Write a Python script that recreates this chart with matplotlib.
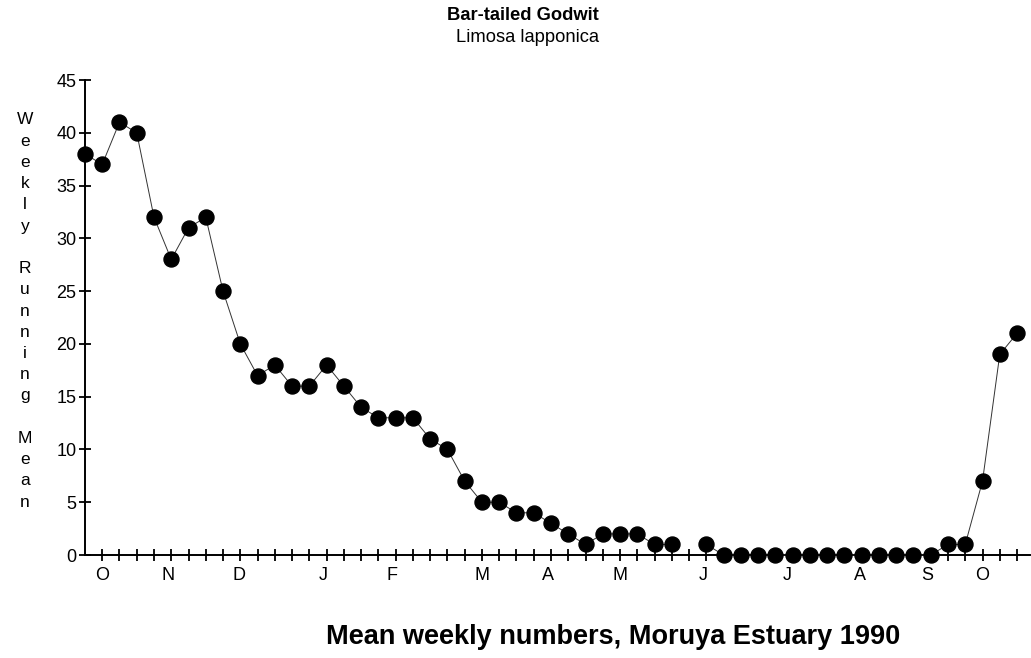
import numpy as np
import matplotlib
matplotlib.use("Agg")
import matplotlib.pyplot as plt

plt.rcParams['font.family'] = ['Liberation Sans', 'DejaVu Sans']

# weekly running mean, Oct 1990 -> Oct (one gap in early June)
weeks = np.arange(55)
counts = [38, 37, 41, 40, 32, 28, 31, 32, 25, 20, 17, 18, 16, 16, 18, 16,
          14, 13, 13, 13, 11, 10, 7, 5, 5, 4, 4, 3, 2, 1, 2, 2, 2, 1, 1,
          np.nan, 1, 0, 0, 0, 0, 0, 0, 0, 0, 0, 0, 0, 0, 0, 1, 1, 7, 19, 21]

month_labels = ['O', 'N', 'D', 'J', 'F', 'M', 'A', 'M', 'J', 'J', 'A', 'S', 'O']
month_pos = [1, 4.8, 8.9, 13.8, 17.8, 23, 26.8, 31, 35.8, 40.7, 44.9, 48.8, 52]

fig = plt.figure(figsize=(10.31, 6.58), dpi=100)
ax = fig.add_axes([0.0824, 0.1565, 0.9166, 0.7219])

ax.plot(weeks, counts, color='#333333', linewidth=0.7, marker='o',
        markersize=10.8, markerfacecolor='black', markeredgecolor='black',
        clip_on=False, zorder=3)

ax.set_xlim(0, 54.75)
ax.set_ylim(0, 45)

ax.spines['top'].set_visible(False)
ax.spines['right'].set_visible(False)
ax.spines['left'].set_linewidth(1.4)
ax.spines['bottom'].set_linewidth(1.4)

ax.set_yticks(np.arange(0, 46, 5))
ax.tick_params(axis='y', direction='inout', length=8, width=1.3,
               labelsize=13, pad=2)

ax.set_xticks(weeks[1:])
ax.set_xticklabels([])
ax.tick_params(axis='x', which='major', direction='inout', length=8,
               width=1.3)

# month letters under the axis
for pos, lab in zip(month_pos, month_labels):
    ax.text(pos, -0.025, lab, transform=ax.get_xaxis_transform(),
            ha='center', va='top', fontsize=13)

# vertical stacked y label
ylab = "W\ne\ne\nk\nl\ny\n\nR\nu\nn\nn\ni\nn\ng\n\nM\ne\na\nn"
fig.text(25 / 1031, 1 - 311 / 658, ylab, ha='center', va='center',
         fontsize=12.5, linespacing=1.52)

fig.text(523 / 1031, 1 - 15 / 658, "Bar-tailed Godwit", ha='center',
         va='center', fontsize=13.2, fontweight='bold')
fig.text(528 / 1031, 1 - 38 / 658, "Limosa lapponica", ha='center',
         va='center', fontsize=13.2)
fig.text(613 / 1031, 1 - 637 / 658, "Mean weekly numbers, Moruya Estuary 1990",
         ha='center', va='center', fontsize=19.5, fontweight='bold')

fig.savefig("out.png", dpi=100)
